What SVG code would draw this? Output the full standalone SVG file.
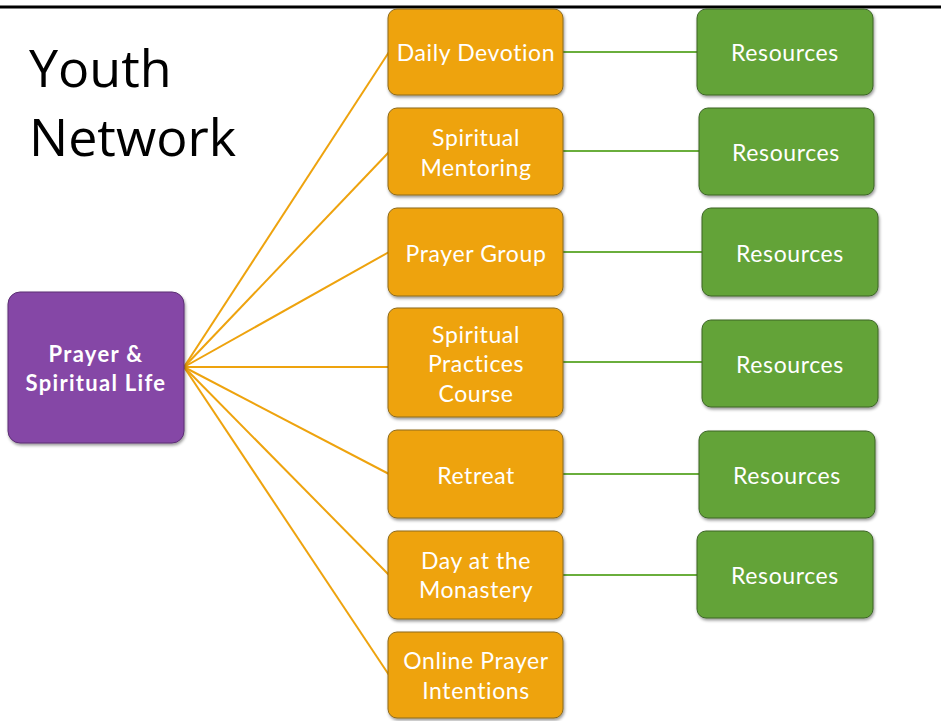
<svg xmlns="http://www.w3.org/2000/svg" width="941" height="721" viewBox="0 0 941 721">
<defs>
<filter id="sh" x="-10%" y="-10%" width="130%" height="130%">
<feDropShadow dx="1" dy="2" stdDeviation="1.5" flood-color="#000" flood-opacity="0.4"/>
</filter>
<style>
.o{fill:#EEA30E;stroke:#8C6A1C;stroke-width:1;filter:url(#sh)}
.g{fill:#63A337;stroke:#3C6427;stroke-width:1;filter:url(#sh)}
.p{fill:#8546A6;stroke:#5B2F73;stroke-width:1;filter:url(#sh)}
.t{font-family:Lato,"Open Sans",sans-serif;font-size:23px;letter-spacing:0.6px;fill:#fff;text-anchor:middle;font-variant-ligatures:none}
.tb{font-family:Lato,"Open Sans",sans-serif;font-size:22px;letter-spacing:1.3px;font-weight:bold;fill:#fff;text-anchor:middle;font-variant-ligatures:none}
.ol{stroke:#EEA30E;stroke-width:2;fill:none}
.gl{stroke:#6AAE3C;stroke-width:2;fill:none}
.title{font-family:"Open Sans",sans-serif;font-size:52px;fill:#000}
</style>
</defs>
<rect width="941" height="721" fill="#fff"/>
<line x1="0" y1="7" x2="941" y2="7" stroke="#000" stroke-width="3"/>
<text class="title" x="29" y="87">Youth</text>
<text class="title" x="29" y="156">Network</text>
<g id="connectors">
<line class="ol" x1="184" y1="367" x2="389" y2="52"/>
<line class="ol" x1="184" y1="367" x2="389" y2="152"/>
<line class="ol" x1="184" y1="367" x2="389" y2="252"/>
<line class="ol" x1="184" y1="367" x2="389" y2="367"/>
<line class="ol" x1="184" y1="367" x2="389" y2="474"/>
<line class="ol" x1="184" y1="367" x2="389" y2="575"/>
<line class="ol" x1="184" y1="367" x2="389" y2="675"/>
<line class="gl" x1="563" y1="52" x2="697" y2="52"/>
<line class="gl" x1="563" y1="151" x2="699" y2="151"/>
<line class="gl" x1="563" y1="252" x2="702" y2="252"/>
<line class="gl" x1="563" y1="362" x2="702" y2="362"/>
<line class="gl" x1="563" y1="474" x2="699" y2="474"/>
<line class="gl" x1="563" y1="575" x2="697" y2="575"/>
</g>
<g id="root">
<rect class="p" x="8" y="292" width="176" height="151" rx="12"/>
<text class="tb" x="96" y="362">Prayer &amp;</text>
<text class="tb" x="96" y="391">Spiritual Life</text>
</g>
<g id="daily-devotion">
<rect class="o" x="388" y="9" width="175" height="86" rx="9"/>
<text class="t" x="476" y="61">Daily Devotion</text>
</g>
<g id="spiritual-mentoring">
<rect class="o" x="388" y="108" width="175" height="87" rx="9"/>
<text class="t" x="476" y="146">Spiritual</text>
<text class="t" x="476" y="176">Mentoring</text>
</g>
<g id="prayer-group">
<rect class="o" x="388" y="208" width="175" height="88" rx="9"/>
<text class="t" x="476" y="262">Prayer Group</text>
</g>
<g id="spiritual-practices">
<rect class="o" x="388" y="308" width="175" height="109" rx="9"/>
<text class="t" x="476" y="343">Spiritual</text>
<text class="t" x="476" y="372">Practices</text>
<text class="t" x="476" y="402">Course</text>
</g>
<g id="retreat">
<rect class="o" x="388" y="430" width="175" height="88" rx="9"/>
<text class="t" x="476" y="484">Retreat</text>
</g>
<g id="day-monastery">
<rect class="o" x="388" y="531" width="175" height="88" rx="9"/>
<text class="t" x="476" y="569">Day at the</text>
<text class="t" x="476" y="598">Monastery</text>
</g>
<g id="online-prayer">
<rect class="o" x="388" y="632" width="175" height="86" rx="9"/>
<text class="t" x="476" y="669">Online Prayer</text>
<text class="t" x="476" y="699">Intentions</text>
</g>
<g id="res1">
<rect class="g" x="697" y="9" width="176" height="86" rx="9"/>
<text class="t" x="785" y="61">Resources</text>
</g>
<g id="res2">
<rect class="g" x="699" y="108" width="175" height="87" rx="9"/>
<text class="t" x="786" y="161">Resources</text>
</g>
<g id="res3">
<rect class="g" x="702" y="208" width="176" height="88" rx="9"/>
<text class="t" x="790" y="262">Resources</text>
</g>
<g id="res4">
<rect class="g" x="702" y="320" width="176" height="87" rx="9"/>
<text class="t" x="790" y="373">Resources</text>
</g>
<g id="res5">
<rect class="g" x="699" y="431" width="176" height="87" rx="9"/>
<text class="t" x="787" y="484">Resources</text>
</g>
<g id="res6">
<rect class="g" x="697" y="531" width="176" height="87" rx="9"/>
<text class="t" x="785" y="584">Resources</text>
</g>
</svg>
